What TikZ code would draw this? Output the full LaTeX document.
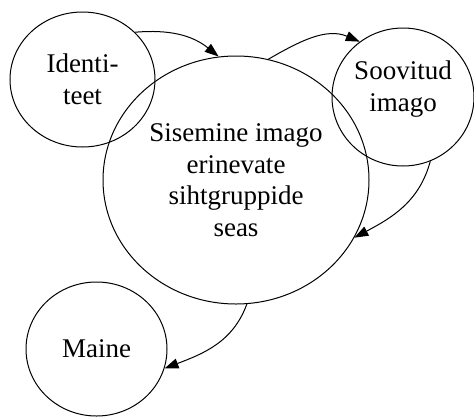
\documentclass[tikz,border=0pt]{standalone}
\usepackage{fontspec}
\setmainfont{Liberation Serif}
\usetikzlibrary{shapes.geometric,arrows.meta}
\tikzset{
  olek/.style={draw, ellipse, inner sep=0pt, align=center, line width=1pt,
    font=\fontsize{27}{31.5}\selectfont},
  nool/.style={-{Triangle[length=14pt,width=10pt]}, line width=1pt}
}
\begin{document}
\begin{tikzpicture}[x=1pt,y=1pt]
		\useasboundingbox (0,0) rectangle (474,-416);
		% ringid
		\node[olek, minimum width=145pt, minimum height=135pt] (ident) at (82.5,-79.5) {Identi-\\teet};
		\node[olek, minimum width=266pt, minimum height=248pt] (sise) at (236,-180) {Sisemine imago\\erinevate\\sihtgruppide\\seas};
		\node[olek, minimum width=142pt, minimum height=138pt, text depth=22pt] (soov) at (403,-97) {Soovitud\\imago};
		\node[olek, minimum width=141pt, minimum height=134pt] (maine) at (96.5,-349) {Maine};
		
		% nooled
		\draw[nool] (ident.42) to[out=5, in=141] (sise.98);
		\draw[nool] (sise.75) to[out=30, in=157] (soov.128);
		\draw[nool] (soov.-67) to[out=255, in=28] (sise.-26);
		\draw[nool] (sise.-85) to[out=250, in=21] (maine.-16);
\end{tikzpicture}
\end{document}
